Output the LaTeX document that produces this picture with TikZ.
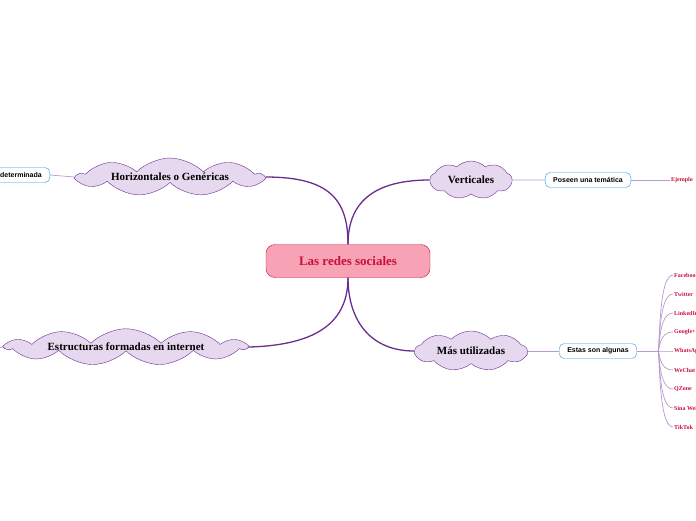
\documentclass[tikz,border=0pt]{standalone}
\usepackage{fontspec}
\setmainfont{Liberation Serif}
\setsansfont{Liberation Sans}
\usetikzlibrary{shapes.symbols}
\definecolor{pur}{HTML}{6B2C91}
\definecolor{lpur}{HTML}{B89AD0}
\definecolor{cfill}{HTML}{E6D8EE}
\definecolor{rd}{HTML}{C8103C}
\definecolor{pk}{HTML}{F8A3B5}
\definecolor{blu}{HTML}{2E9BE0}
\tikzset{
 main/.style={draw=rd,fill=pk,rounded corners=9pt,minimum width=164pt,minimum height=33pt,text=rd,font=\bfseries\fontsize{13}{15}\selectfont},
 cl/.style={cloud,cloud puffs=9,cloud puff arc=90,draw=pur,fill=cfill,inner sep=0pt,cloud ignores aspect,font=\bfseries\fontsize{11}{13}\selectfont,text=black},
 sub/.style={draw=blu,fill=white,rounded corners=5pt,font=\sffamily\bfseries\fontsize{7}{8}\selectfont,minimum height=15pt,inner xsep=8pt},
 leaf/.style={font=\bfseries\fontsize{6}{7}\selectfont,text=rd,anchor=west,inner sep=1pt},
 conn/.style={pur,line width=1.3pt},
 thin/.style={lpur,line width=0.7pt}
}
\begin{document}
\begin{tikzpicture}[x=1pt,y=-1pt]
\useasboundingbox (0,0) rectangle (696,520);
\clip (0,0) rectangle (696,520);
\node[cl,minimum width=185pt,minimum height=38pt] (h) at (170,177) {Horizontales o Genéricas};
\node[cl,minimum width=82pt,minimum height=38pt] (v) at (471,180) {Verticales};
\node[cl,minimum width=112pt,minimum height=40pt] (m) at (471,351) {Más utilizadas};
\node[cl,minimum width=240pt,minimum height=34pt,cloud puffs=11] (e) at (126,347) {Estructuras formadas en internet};
\node[main] (c) at (348,261) {Las redes sociales};
\draw[conn] (c.north) .. controls (348,200) and (330,177) .. (h.east);
\draw[conn] (c.north) .. controls (348,210) and (365,180) .. (v.west);
\draw[conn] (c.south) .. controls (348,320) and (370,351) .. (m.west);
\draw[conn] (c.south) .. controls (348,320) and (320,345) .. (e.east);
\node[sub,anchor=east] (s1) at (50,175) {Sin temática determinada};
\draw[thin] (h.west) -- (s1.east);
\node[sub] (s2) at (588,180) {Poseen una temática};
\draw[thin] (v.east) -- (s2.west);
\node[leaf] (ej) at (670,180) {Ejemplo};
\draw[thin] (s2.east) -- (ej.west);
\node[sub] (s3) at (598,351) {Estas son algunas};
\draw[thin] (m.east) -- (s3.west);
\coordinate (e0) at (-5,349);
\draw[thin] (e.west) -- (e0);
\coordinate (br) at (658,351);
\draw[thin] (s3.east) -- (br);
\foreach \t [count=\i] in {Facebook,Twitter,LinkedIn,Google+,WhatsApp,WeChat,QZone,Sina Weibo,TikTok}{
  \node[leaf] (l\i) at (673,{256+19*\i}) {\t};
  \draw[thin] (br) .. controls (660,351) and (658,{256+19*\i}) .. (l\i.west);
}
\end{tikzpicture}
\end{document}
